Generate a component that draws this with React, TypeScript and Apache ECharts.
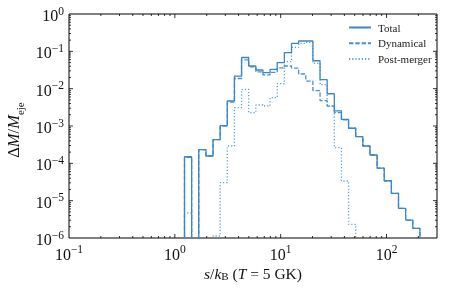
import React, { useEffect, useRef } from "react";
import * as echarts from "echarts";

// Log-spaced bin edges (s/k_B)
const EDGES = [1.234, 1.441, 1.683, 1.966, 2.296, 2.681, 3.131, 3.657, 4.270, 4.987, 5.825, 6.802, 7.944, 9.279, 10.84, 12.66, 14.78, 17.27, 20.16, 23.55, 27.50, 32.12, 37.51, 43.81, 51.17, 59.76, 69.79, 81.51, 95.17, 111.2, 129.8, 151.6, 177.1, 206.8];

const TOTAL = [1.50e-4, 0, 2.34e-4, 1.57e-4, 4.32e-4, 1.02e-3, 4.67e-3, 2.18e-2, 6.84e-2, 4.05e-2, 3.16e-2, 2.68e-2, 3.30e-2, 4.96e-2, 9.2e-2, 0.164, 0.189, 0.189, 5.6e-2, 1.75e-2, 7.3e-3, 2.55e-3, 1.5e-3, 8.7e-4, 5.2e-4, 2.91e-4, 1.67e-4, 7.4e-5, 3.42e-5, 1.57e-5, 6.2e-6, 3.03e-6, 1.82e-6];

const DYNAMICAL = [1.45e-4, 0, 2.34e-4, 1.57e-4, 4.31e-4, 9.9e-4, 4.38e-3, 1.87e-2, 5.9e-2, 3.82e-2, 2.8e-2, 2.34e-2, 2.73e-2, 3.6e-2, 4.05e-2, 3.57e-2, 2.47e-2, 1.6e-2, 8.9e-3, 4.8e-3, 3.4e-3, 2.29e-3, 1.47e-3, 8.7e-4, 5.2e-4, 2.91e-4, 1.67e-4, 7.4e-5, 3.42e-5, 1.57e-5, 6.2e-6, 3.03e-6, 1.82e-6];

const POST_MERGER = [4.7e-6, 0, 0, 0, 1.13e-6, 3.03e-5, 2.91e-4, 3.09e-3, 9.6e-3, 2.27e-3, 3.65e-3, 3.43e-3, 5.73e-3, 1.36e-2, 5.27e-2, 0.128, 0.164, 0.173, 4.79e-2, 1.28e-2, 3.4e-3, 2.62e-4, 3.36e-5, 2.32e-6, 0, 0, 0, 0, 0, 0, 0, 0, 0];

const SERIES_NAMES = ["Total", "Dynamical", "Post-merger"];

const X_MIN = 0.1;
const X_MAX = 300;
const Y_MIN = 1e-6;
const Y_MAX = 1;
const FLOOR = 1e-8;

const FONT = "'Liberation Serif', 'DejaVu Serif', serif";

function stepOutline(edges: number[], vals: number[]): number[][] {
  let last = vals.length - 1;
  while (last > 0 && vals[last] <= 0) last--;
  const pts: number[][] = [[edges[0], FLOOR]];
  for (let i = 0; i <= last; i++) {
    const v = vals[i] > 0 ? vals[i] : FLOOR;
    pts.push([edges[i], v]);
    pts.push([edges[i + 1], v]);
  }
  pts.push([edges[last + 1], FLOOR]);
  return pts;
}

function powLabel(v: number): string {
  const l = Math.log10(v);
  const e = Math.round(l);
  if (Math.abs(l - e) > 1e-6) return "";
  const s = e < 0 ? "\u2212" + -e : String(e);
  return `{b|10}{s|${s}}`;
}

const labelRich = {
  b: { fontSize: 16, lineHeight: 19, verticalAlign: "bottom", fontFamily: FONT, color: "#111" },
  s: { fontSize: 11.5, lineHeight: 11, verticalAlign: "top", fontFamily: FONT, color: "#111" },
};

export default function App() {
  const ref = useRef<HTMLDivElement>(null);

  useEffect(() => {
    if (!ref.current) return;
    const chart = echarts.init(ref.current, undefined, { renderer: "svg" });

    const colors = ["#3a87c6", "#4790ca", "#5a9fd4"];

    const tickSeries = {
      type: "custom",
      coordinateSystem: "cartesian2d",
      silent: true,
      clip: false,
      z: 10,
      data: [[1, 1e-3]],
      renderItem: (params: any, api: any) => {
        const cs = params.coordSys;
        const x0 = cs.x, x1 = cs.x + cs.width, y0 = cs.y, y1 = cs.y + cs.height;
        const children: any[] = [];
        const mk = (a: number, b: number, c: number, d: number) => ({
          type: "line",
          shape: { x1: a, y1: b, x2: c, y2: d },
          style: { stroke: "#000", lineWidth: 0.8 },
        });
        for (let k = -1; k <= 2; k++) {
          for (let m = 1; m <= 9; m++) {
            const v = m * Math.pow(10, k);
            if (v <= X_MIN * 1.0001 || v >= X_MAX) continue;
            const px = api.coord([v, Y_MIN])[0];
            const len = m === 1 ? 4 : 2;
            children.push(mk(px, y1, px, y1 - len));
            children.push(mk(px, y0, px, y0 + len));
          }
        }
        for (let k = -6; k <= -1; k++) {
          for (let m = 1; m <= 9; m++) {
            const v = m * Math.pow(10, k);
            if (v <= Y_MIN * 1.0001 || v >= Y_MAX) continue;
            const py = api.coord([1, v])[1];
            const len = m === 1 ? 4 : 2;
            children.push(mk(x0, py, x0 + len, py));
            children.push(mk(x1, py, x1 - len, py));
          }
        }
        return { type: "group", children };
      },
    };

    const dashes: any[] = ["solid", [4.4, 1.9], [1.2, 2]];
    const datasets = [TOTAL, DYNAMICAL, POST_MERGER];

    const lineSeries = datasets.map((vals, i) => ({
      name: SERIES_NAMES[i],
      type: "line",
      data: stepOutline(EDGES, vals),
      showSymbol: false,
      symbol: "none",
      clip: true,
      z: 3 - i,
      lineStyle: { color: colors[i], width: 1.3, type: dashes[i] },
      itemStyle: { color: colors[i] },
    }));

    chart.setOption({
      animation: false,
      grid: {
        left: 69,
        right: 23,
        top: 14,
        bottom: 50,
        show: true,
        borderColor: "#000",
        borderWidth: 1,
        backgroundColor: "transparent",
      },
      legend: {
        data: SERIES_NAMES,
        orient: "vertical",
        left: 343,
        top: 17,
        itemWidth: 22,
        itemHeight: 10,
        itemGap: 4.7,
        itemStyle: { opacity: 0 },
        textStyle: { fontFamily: FONT, fontSize: 11, color: "#222", lineHeight: 10, padding: [0, 0, 0, 2] },
        selectedMode: false,
      },
      xAxis: {
        type: "log",
        logBase: 10,
        min: X_MIN,
        max: X_MAX,
        axisLine: { show: false },
        axisTick: { show: false },
        splitLine: { show: false },
        minorTick: { show: false },
        axisLabel: {
          margin: 5,
          formatter: powLabel,
          rich: labelRich,
          showMaxLabel: false,
        },
      },
      yAxis: {
        type: "log",
        logBase: 10,
        min: Y_MIN,
        max: Y_MAX,
        axisLine: { show: false },
        axisTick: { show: false },
        splitLine: { show: false },
        axisLabel: {
          margin: 5,
          formatter: powLabel,
          rich: labelRich,
        },
      },
      graphic: [
        {
          type: "text",
          x: 253,
          y: 273.5,
          style: {
            text: "{i|s}{n|/}{i|k}{sub|B}{n| (}{i|T}{n| = 5 GK)}",
            align: "center",
            verticalAlign: "middle",
            rich: {
              i: { fontFamily: FONT, fontSize: 15.5, fontStyle: "italic", lineHeight: 16, verticalAlign: "top", fill: "#111" },
              n: { fontFamily: FONT, fontSize: 15.5, lineHeight: 16, verticalAlign: "top", fill: "#111" },
              sub: { fontFamily: FONT, fontSize: 11, lineHeight: 9, verticalAlign: "bottom", fill: "#111" },
            },
          },
        },
        {
          type: "text",
          x: 15,
          y: 130,
          rotation: Math.PI / 2,
          style: {
            text: "{n|\u0394}{i|M}{n|/}{i|M}{sub|eje}",
            align: "center",
            verticalAlign: "middle",
            rich: {
              i: { fontFamily: FONT, fontSize: 16.5, fontStyle: "italic", lineHeight: 21, verticalAlign: "top", fill: "#111" },
              n: { fontFamily: FONT, fontSize: 16.5, lineHeight: 21, verticalAlign: "top", fill: "#111" },
              sub: { fontFamily: FONT, fontSize: 11, lineHeight: 11, verticalAlign: "bottom", fill: "#111" },
            },
          },
        },
      ],
      series: [...lineSeries, tickSeries],
    });

    return () => chart.dispose();
  }, []);

  return (
    <div
      ref={ref}
      style={{ position: "fixed", left: 0, top: 0, width: 460, height: 288 }}
    />
  );
}
